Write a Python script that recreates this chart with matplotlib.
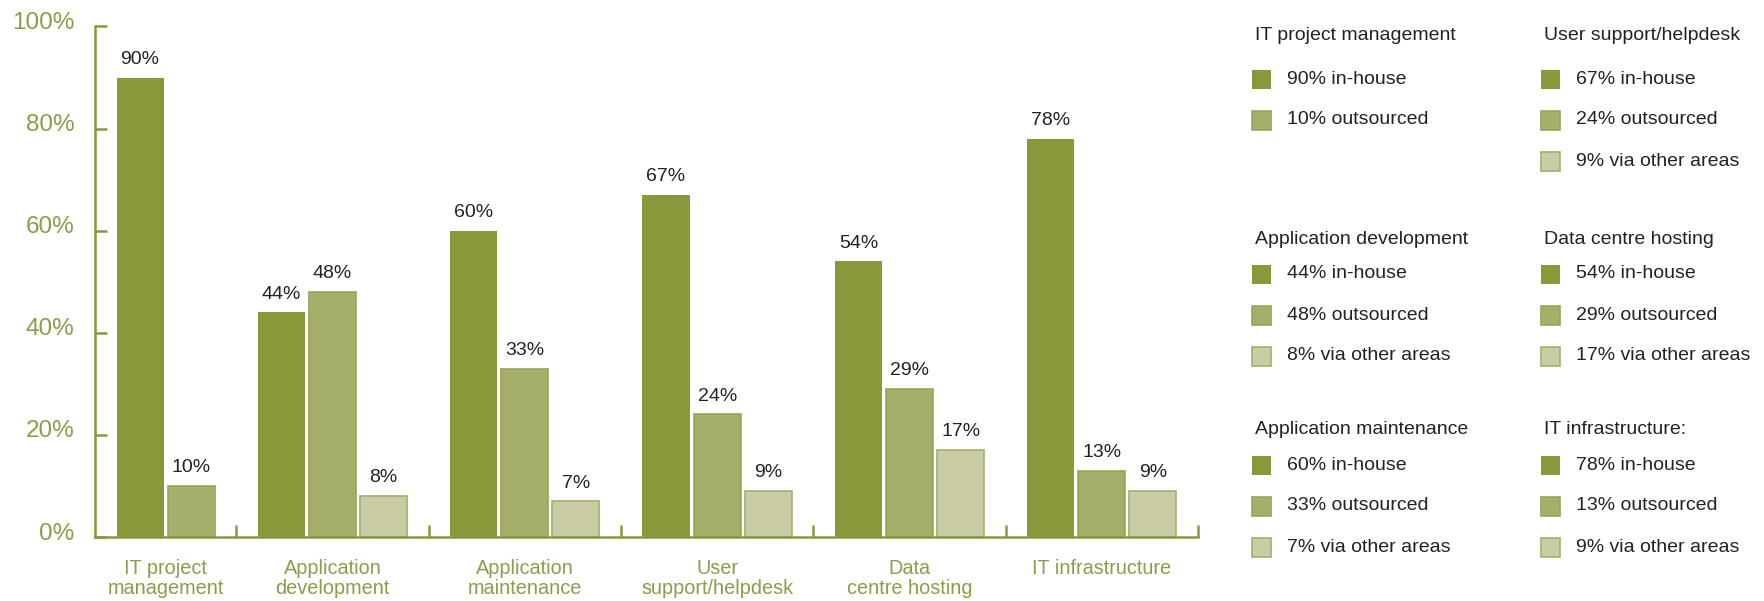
import matplotlib
matplotlib.use("Agg")
import matplotlib.pyplot as plt
import matplotlib.transforms as mtransforms
from matplotlib.patches import Rectangle
from matplotlib.ticker import FixedLocator

plt.rcParams['font.family'] = ['Liberation Sans', 'DejaVu Sans']

# sourcing split per IT function (percent)
categories = ["IT project\nmanagement", "Application\ndevelopment", "Application\nmaintenance",
              "User\nsupport/helpdesk", "Data\ncentre hosting", "IT infrastructure"]
legend_titles = ["IT project management", "Application development", "Application maintenance",
                 "User support/helpdesk", "Data centre hosting", "IT infrastructure:"]
in_house = [90, 44, 60, 67, 54, 78]
outsourced = [10, 48, 33, 24, 29, 13]
other_areas = [None, 8, 7, 9, 17, 9]
kinds = ["in-house", "outsourced", "via other areas"]
yticks = [0, 20, 40, 60, 80, 100]

dark = "#8a983b"
mid = "#a6af69"
light = "#c9cca4"
fills = [dark, mid, light]
edges = [dark, "#98a456", "#a5ae68"]
green_txt = "#8e9b4b"
txt = "#222222"

W, H = 1764, 601
fig = plt.figure(figsize=(W / 100, H / 100), dpi=100)

# legend lives on a full-figure pixel canvas
lax = fig.add_axes([0, 0, 1, 1])
lax.set_xlim(0, W)
lax.set_ylim(H, 0)
lax.axis("off")

x0, x1, y0, y1 = 95, 1198, 537, 26.5
ax = fig.add_axes([x0 / W, (H - y0) / H, (x1 - x0) / W, (y0 - y1) / H])

pitch, bw, margin = 51, 47, 21.5
left = 0
centers, seps = [], []
for i in range(len(categories)):
    vals = [in_house[i], outsourced[i], other_areas[i]]
    vals = [v for v in vals if v is not None]
    xs = [left + margin + k * pitch + bw / 2 for k in range(len(vals))]
    for k, (x, v) in enumerate(zip(xs, vals)):
        ax.bar(x, v, width=bw, color=fills[k], edgecolor=edges[k],
               linewidth=0 if k == 0 else 1.2)
        ax.annotate(f"{v}%", (x, v), xytext=(0, 7), textcoords="offset points",
                    ha="center", va="bottom", fontsize=14, color=txt)
    centers.append((xs[0] + xs[-1]) / 2)
    left += margin * 2 + len(vals) * pitch - (pitch - bw)
    seps.append(left)

ax.set_xlim(0, left)
ax.set_ylim(0, 100)
for s in ["top", "right"]:
    ax.spines[s].set_visible(False)
for s in ["left", "bottom"]:
    ax.spines[s].set_color(dark)
    ax.spines[s].set_linewidth(1.8)

ax.set_yticks(yticks)
ax.set_yticklabels([f"{t}%" for t in yticks], fontsize=17.5, color=green_txt)
ax.tick_params(axis="y", direction="in", length=8.5, width=1.8, color=dark, pad=15)
shift = mtransforms.ScaledTranslation(0, 6 / 100, fig.dpi_scale_trans)
for lab in ax.get_yticklabels():
    lab.set_transform(lab.get_transform() + shift)

ax.set_xticks(centers)
ax.set_xticklabels(categories, fontsize=14.3, color=green_txt, linespacing=1.12)
ax.tick_params(axis="x", which="major", length=0, pad=15.5)
ax.xaxis.set_minor_locator(FixedLocator(seps))
ax.tick_params(axis="x", which="minor", direction="in", length=8.5, width=1.8, color=dark)

# legend blocks: two columns, three rows
col_x = [(1252, 1287, 1255), (1541, 1576, 1544)]
row_title_y = [35, 239, 429]
row_first = [79, 274, 465]
step = 41
sq = 19
for i in range(len(categories)):
    col, row = divmod(i, 3)
    sx, tx, hx = col_x[col]
    lax.text(hx, row_title_y[row], legend_titles[i], fontsize=14, color=txt,
             ha="left", va="center")
    vals = [in_house[i], outsourced[i], other_areas[i]]
    for k, v in enumerate(vals):
        if v is None:
            continue
        yy = row_first[row] + k * step
        lax.add_patch(Rectangle((sx, yy - sq / 2), sq, sq, facecolor=fills[k],
                                edgecolor=edges[k], linewidth=0 if k == 0 else 1.2))
        lax.text(tx, yy, f"{v}% {kinds[k]}", fontsize=14, color=txt,
                 ha="left", va="center")

fig.savefig("out.png", dpi=100)
